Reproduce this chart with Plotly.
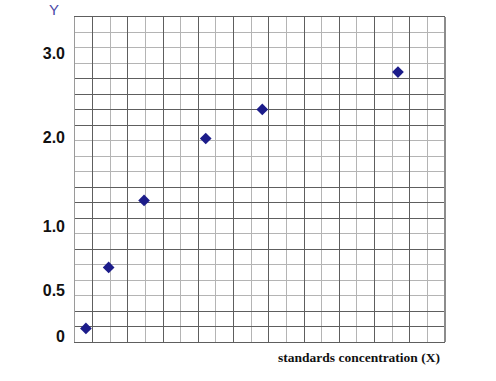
import plotly.graph_objects as go

# Data (in grid-cell units of the chart's squared paper)
x_vals = [0.62, 1.91, 3.92, 7.42, 10.63, 18.33]
y_vals = [0.88, 4.82, 9.15, 13.15, 15.03, 17.44]

# Y-axis labels and where they sit on the grid
y_label_text = ["0", "0.5", "1.0", "2.0", "3.0"]
y_label_pos = [0.36, 3.31, 7.47, 13.23, 18.67]

# Darker horizontal grid rows
dark_rows = [0, 1, 2, 6, 8, 9, 10, 14, 15, 16, 17, 21]

DARK = "#5e5e5e"
LIGHT = "#b4b4b4"

fig = go.Figure()
fig.add_trace(go.Scatter(
    x=x_vals, y=y_vals, mode="markers",
    marker=dict(symbol="diamond", size=9, color="#1c1c8a"),
    showlegend=False, hoverinfo="skip",
))

fig.update_layout(
    width=496, height=381,
    margin=dict(l=75, r=51, t=17, b=39),
    paper_bgcolor="white", plot_bgcolor="white",
    xaxis=dict(
        range=[0, 21], showticklabels=False, ticks="",
        tick0=1, dtick=2, showgrid=True, gridcolor=DARK, gridwidth=1,
        minor=dict(tick0=0, dtick=1, showgrid=True, gridcolor=LIGHT, gridwidth=1),
        zeroline=False, showline=True, linecolor=DARK, linewidth=1, mirror=True,
        fixedrange=True,
    ),
    yaxis=dict(
        range=[0, 21], showticklabels=False, ticks="",
        tickmode="array", tickvals=dark_rows,
        showgrid=True, gridcolor=DARK, gridwidth=1,
        minor=dict(tick0=0, dtick=1, showgrid=True, gridcolor=LIGHT, gridwidth=1),
        zeroline=False, showline=True, linecolor="#9a9a9a", linewidth=1,
        fixedrange=True,
    ),
    yaxis2=dict(
        overlaying="y", side="left", range=[0, 21],
        tickmode="array", tickvals=y_label_pos, ticktext=y_label_text,
        ticks="", showgrid=False, zeroline=False, showline=False,
        tickfont=dict(family="Liberation Sans, Arial, sans-serif", size=16,
                      color="#111111", weight="bold"),
        ticklabelstandoff=9,
    ),
    shapes=[dict(type="line", xref="paper", yref="paper", x0=1, x1=1, y0=0, y1=1,
                 line=dict(color="#8c8c8c", width=2))],
    annotations=[
        dict(text="Y", xref="paper", yref="paper", x=-0.056, y=1.0,
             xanchor="center", yanchor="bottom", yshift=-3, showarrow=False,
             font=dict(family="Liberation Sans, Arial, sans-serif", size=15,
                       color="#4a4aa8")),
        dict(text="<b>standards concentration (X)</b>", xref="paper", yref="paper",
             x=0.992, y=-0.048, xanchor="right", yanchor="middle", showarrow=False,
             font=dict(family="Liberation Serif, Times New Roman, serif", size=13.5,
                       color="#111111")),
    ],
)
# dummy trace to activate yaxis2
fig.add_trace(go.Scatter(x=[None], y=[None], yaxis="y2", showlegend=False,
                         hoverinfo="skip"))

fig.write_html("out.html")
